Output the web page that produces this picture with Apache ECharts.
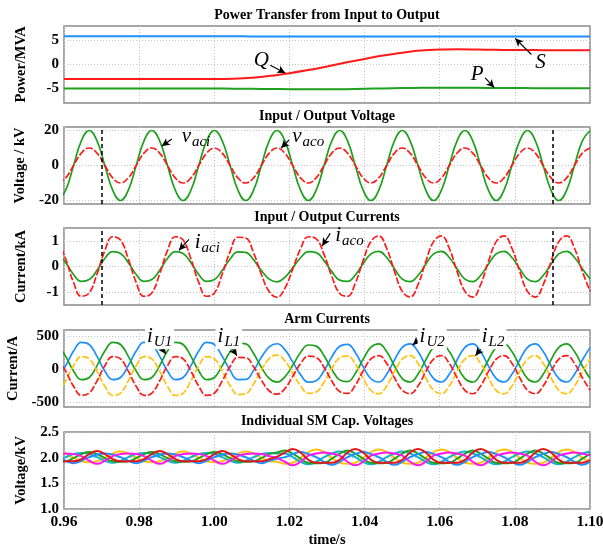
<!DOCTYPE html>
<html>
<head>
<meta charset="utf-8">
<script src="https://cdn.jsdelivr.net/npm/echarts@6/dist/echarts.min.js"></script>
<style>
  html, body { margin: 0; padding: 0; background: #fff; }
  #chart { width: 603px; height: 546px; }
</style>
</head>
<body>
<div id="chart"></div>
<script>
const SERIF = 'Liberation Serif'

// simulation sample times (s), one sample every 1/480 s
const sampleTime = [
  0.95837, 0.96046, 0.96254, 0.96462, 0.96671, 0.96879, 0.97087, 0.97296, 0.97504, 0.97712,
  0.97921, 0.98129, 0.98337, 0.98546, 0.98754, 0.98962, 0.99171, 0.99379, 0.99587, 0.99796,
  1.00004, 1.00212, 1.00421, 1.00629, 1.00837, 1.01046, 1.01254, 1.01462, 1.01671, 1.01879,
  1.02087, 1.02296, 1.02504, 1.02712, 1.02921, 1.03129, 1.03337, 1.03546, 1.03754, 1.03962,
  1.04171, 1.04379, 1.04587, 1.04796, 1.05004, 1.05212, 1.05421, 1.05629, 1.05837, 1.06046,
  1.06254, 1.06462, 1.06671, 1.06879, 1.07087, 1.07296, 1.07504, 1.07712, 1.07921, 1.08129,
  1.08337, 1.08546, 1.08754, 1.08962, 1.09171, 1.09379, 1.09587, 1.09796, 1.10004
]

// power transfer (MVA), every 5 ms
const powerTime = [0.96, 0.965, 0.97, 0.975, 0.98, 0.985, 0.99, 0.995, 1.0, 1.005, 1.01, 1.015, 1.02, 1.025,
  1.03, 1.035, 1.04, 1.045, 1.05, 1.055, 1.06, 1.065, 1.07, 1.075, 1.08, 1.085, 1.09, 1.095, 1.1]
const powerS = [5.85, 5.85, 5.85, 5.85, 5.85, 5.85, 5.85, 5.85, 5.85, 5.85, 5.84, 5.84, 5.83, 5.83,
  5.82, 5.82, 5.82, 5.81, 5.81, 5.8, 5.8, 5.8, 5.8, 5.8, 5.8, 5.8, 5.8, 5.8, 5.8]
const powerQ = [-3, -3, -3, -3, -3, -3, -3, -3, -3, -2.95, -2.75, -2.35, -1.8, -1.15,
  -0.4, 0.4, 1.15, 1.85, 2.45, 2.9, 3.1, 3.15, 3.1, 3.05, 3.0, 3.0, 2.95, 2.95, 2.95]
const powerP = [-5, -5, -5, -5, -5, -5, -5, -5, -5, -5.02, -5.05, -5.1, -5.13, -5.15,
  -5.15, -5.12, -5.05, -4.97, -4.9, -4.85, -4.83, -4.83, -4.85, -4.88, -4.9, -4.91, -4.92, -4.92, -4.92]

// input / output voltage (kV)
const vAci = [
  -20, -14.1, 0, 14.1, 20, 14.1, 0, -14.1,
  -20, -14.1, 0, 14.1, 20, 14.1, 0, -14.1,
  -20, -14.1, 0, 14.1, 20, 14.1, 0, -14.1,
  -20, -14.1, 0, 14.1, 20, 14.1, 0, -14.1,
  -20, -14.1, 0, 14.1, 20, 14.1, 0, -14.1,
  -20, -14.1, 0, 14.1, 20, 14.1, 0, -14.1,
  -20, -14.1, 0, 14.1, 20, 14.1, 0, -14.1,
  -20, -14.1, 0, 14.1, 20, 14.1, 0, -14.1,
  -20, -14.1, 0, 14.1, 20
]
const vAco = [
  -10, -7.07, 0, 7.07, 10, 7.07, 0, -7.07,
  -10, -7.07, 0, 7.07, 10, 7.07, 0, -7.07,
  -10, -7.07, 0, 7.07, 10, 7.07, 0, -7.07,
  -10, -7.07, 0, 7.07, 10, 7.07, 0, -7.07,
  -10, -7.07, 0, 7.07, 10, 7.07, 0, -7.07,
  -10, -7.07, 0, 7.07, 10, 7.07, 0, -7.07,
  -10, -7.07, 0, 7.07, 10, 7.07, 0, -7.07,
  -10, -7.07, 0, 7.07, 10, 7.07, 0, -7.07,
  -10, -7.07, 0, 7.07, 10
]

// input / output currents (kA)
const iAci = [
  0.51, 0.15, -0.31, -0.58, -0.51, -0.15, 0.31, 0.58,
  0.51, 0.15, -0.31, -0.58, -0.51, -0.15, 0.31, 0.58,
  0.51, 0.15, -0.31, -0.58, -0.51, -0.15,
  0.29, 0.57, 0.55, 0.26, -0.16, -0.49, -0.60, -0.42, -0.05,
  0.34, 0.58, 0.54, 0.23, -0.20, -0.53, -0.58, -0.33, 0.11, 0.49,
  0.59, 0.35, -0.09, -0.49, -0.59, -0.35, 0.09,
  0.49, 0.59, 0.35, -0.09, -0.49, -0.59, -0.35, 0.09,
  0.49, 0.59, 0.35, -0.09, -0.49, -0.59, -0.35, 0.09,
  0.49, 0.59, 0.35, -0.09, -0.49
]
const iAco = [
  1.03, 0.29, -0.62, -1.16, -1.03, -0.29, 0.62, 1.16,
  1.03, 0.29, -0.62, -1.16, -1.03, -0.29, 0.62, 1.16,
  1.03, 0.29, -0.62, -1.16, -1.03, -0.29,
  0.58, 1.14, 1.11, 0.53, -0.31, -0.98, -1.20, -0.85, -0.10,
  0.69, 1.16, 1.08, 0.47, -0.39, -1.05, -1.16, -0.65, 0.23, 0.98,
  1.19, 0.71, -0.19, -0.97, -1.19, -0.71, 0.19,
  0.97, 1.19, 0.71, -0.19, -0.97, -1.19, -0.71, 0.19,
  0.97, 1.19, 0.71, -0.19, -0.97, -1.19, -0.71, 0.19,
  0.97, 1.19, 0.71, -0.19, -0.97
]

// arm currents (A)
const iU1 = [
  378, 196, -27, -161, -128, 54, 277, 411,
  378, 196, -27, -161, -128, 54, 277, 411,
  378, 196, -27, -161, -128, 54,
  268, 399, 387, 239, 29, -142, -199, -119, 59,
  254, 370, 353, 205, -4, -164, -191, -66, 151, 337,
  387, 269, 49, -144, -197, -79, 141,
  334, 387, 269, 49, -144, -197, -79, 141,
  334, 387, 269, 49, -144, -197, -79, 141,
  334, 387, 269, 49, -144
]
const iU2 = [
  -128, 54, 277, 411, 378, 196, -27, -161,
  -128, 54, 277, 411, 378, 196, -27, -161,
  -128, 54, 277, 411, 378, 196,
  -18, -159, -157, -19, 181, 342, 389, 299, 111,
  -84, -200, -177, -25, 188, 352, 381, 256, 39, -147,
  -197, -79, 141, 334, 387, 269, 49,
  -144, -197, -79, 141, 334, 387, 269, 49,
  -144, -197, -79, 141, 334, 387, 269, 49,
  -144, -197, -79, 141, 334
]
const iL1 = [
  156, -31, -262, -401, -366, -179, 52, 191,
  156, -31, -262, -401, -366, -179, 52, 191,
  156, -31, -262, -401, -366, -179,
  41, 179, 176, 36, -168, -331, -384, -297, -111,
  84, 200, 180, 30, -181, -343, -371, -246, -29, 157,
  207, 89, -131, -324, -377, -259, -39,
  154, 207, 89, -131, -324, -377, -259, -39,
  154, 207, 89, -131, -324, -377, -259, -39,
  154, 207, 89, -131, -324
]
const iL2 = [
  -366, -179, 52, 191, 156, -31, -262, -401,
  -366, -179, 52, 191, 156, -31, -262, -401,
  -366, -179, 52, 191, 156, -31,
  -251, -389, -376, -226, -12, 161, 214, 127, -59,
  -254, -370, -350, -200, 11, 173, 201, 76, -141, -327,
  -377, -259, -39, 154, 207, 89, -131,
  -324, -377, -259, -39, 154, 207, 89, -131,
  -324, -377, -259, -39, 154, 207, 89, -131,
  -324, -377, -259, -39, 154
]

// individual SM capacitor voltages (kV)
const capGold = [
  2.12, 2.08, 2.00, 1.93, 1.91, 1.93, 2.00, 2.08,
  2.12, 2.08, 2.00, 1.93, 1.91, 1.93, 2.00, 2.08,
  2.12, 2.08, 2.00, 1.93, 1.91, 1.93, 2.00, 2.08,
  2.12, 2.08, 2.00, 1.93, 1.92,
  1.88, 1.90, 2.00, 2.11,
  2.16, 2.11, 2.00, 1.90, 1.88, 1.90, 2.00, 2.11,
  2.16, 2.11, 2.00, 1.90, 1.88, 1.90, 2.00, 2.11,
  2.16, 2.11, 2.00, 1.90, 1.88, 1.90, 2.00, 2.11,
  2.16, 2.11, 2.00, 1.90, 1.88, 1.90, 2.00, 2.11,
  2.16, 2.11, 2.00, 1.90
]
const capMagenta = [
  2.07,
  2.08, 2.07, 2.03, 1.94, 1.88, 1.94, 2.03, 2.07,
  2.08, 2.07, 2.03, 1.94, 1.88, 1.94, 2.03, 2.07,
  2.08, 2.07, 2.03, 1.94, 1.88, 1.94, 2.03, 2.07,
  2.08, 2.07, 2.03, 1.99,
  1.92, 1.85, 1.92, 2.04, 2.08,
  2.10, 2.08, 2.04, 1.92, 1.85, 1.92, 2.04, 2.08,
  2.10, 2.08, 2.04, 1.92, 1.85, 1.92, 2.04, 2.08,
  2.10, 2.08, 2.04, 1.92, 1.85, 1.92, 2.04, 2.08,
  2.10, 2.08, 2.04, 1.92, 1.85, 1.92, 2.04, 2.08,
  2.10, 2.08, 2.04
]
const capCyan = [
  1.94, 2.01, 2.07,
  2.09, 2.07, 2.01, 1.94, 1.90, 1.94, 2.01, 2.07,
  2.09, 2.07, 2.01, 1.94, 1.90, 1.94, 2.01, 2.07,
  2.09, 2.07, 2.01, 1.94, 1.90, 1.94, 2.01, 2.07,
  2.09, 2.08,
  2.08, 2.01, 1.92, 1.87, 1.92, 2.01, 2.08,
  2.12, 2.08, 2.01, 1.92, 1.87, 1.92, 2.01, 2.08,
  2.12, 2.08, 2.01, 1.92, 1.87, 1.92, 2.01, 2.08,
  2.12, 2.08, 2.01, 1.92, 1.87, 1.92, 2.01, 2.08,
  2.12, 2.08, 2.01, 1.92, 1.87, 1.92, 2.01, 2.08,
  2.12
]
const capGreen = [
  1.92, 1.93, 1.99, 2.07,
  2.11, 2.07, 1.99, 1.93, 1.92, 1.93, 1.99, 2.07,
  2.11, 2.07, 1.99, 1.93, 1.92, 1.93, 1.99, 2.07,
  2.11, 2.07, 1.99, 1.93, 1.92, 1.93, 1.99, 2.07,
  2.10,
  2.14, 2.08, 1.98, 1.90, 1.89, 1.90, 1.98, 2.08,
  2.14, 2.08, 1.98, 1.90, 1.89, 1.90, 1.98, 2.08,
  2.14, 2.08, 1.98, 1.90, 1.89, 1.90, 1.98, 2.08,
  2.14, 2.08, 1.98, 1.90, 1.89, 1.90, 1.98, 2.08,
  2.14, 2.08, 1.98, 1.90, 1.89, 1.90, 1.98, 2.08
]
const capRed = [
  1.93, 1.93, 1.93, 1.97, 2.07,
  2.13, 2.07, 1.97, 1.93, 1.93, 1.93, 1.97, 2.07,
  2.13, 2.07, 1.97, 1.93, 1.93, 1.93, 1.97, 2.07,
  2.13, 2.07, 1.97, 1.93, 1.93, 1.93, 1.97,
  2.02, 2.10,
  2.17, 2.10, 1.96, 1.90, 1.90, 1.90, 1.96, 2.10,
  2.17, 2.10, 1.96, 1.90, 1.90, 1.90, 1.96, 2.10,
  2.17, 2.10, 1.96, 1.90, 1.90, 1.90, 1.96, 2.10,
  2.17, 2.10, 1.96, 1.90, 1.90, 1.90, 1.96, 2.10,
  2.17, 2.10, 1.96, 1.90, 1.90, 1.90, 1.96
]
const capBlue = [
  2.01, 1.94, 1.89, 1.94, 2.01, 2.06,
  2.08, 2.06, 2.01, 1.94, 1.89, 1.94, 2.01, 2.06,
  2.08, 2.06, 2.01, 1.94, 1.89, 1.94, 2.01, 2.06,
  2.08, 2.06, 2.01, 1.94, 1.89, 1.94,
  1.98, 2.01, 2.07,
  2.11, 2.07, 2.01, 1.92, 1.86, 1.92, 2.01, 2.07,
  2.11, 2.07, 2.01, 1.92, 1.86, 1.92, 2.01, 2.07,
  2.11, 2.07, 2.01, 1.92, 1.86, 1.92, 2.01, 2.07,
  2.11, 2.07, 2.01, 1.92, 1.86, 1.92, 2.01, 2.07,
  2.11, 2.07, 2.01, 1.92, 1.86, 1.92
]

// dashed cursor lines (s)
const cursorTimes = [0.9709, 1.0877]

// y tick labels per panel
const powerTicks = [-5, 0, 5]
const voltageTicks = [-20, 0, 20]
const currentTicks = [-1, 0, 1]
const armTicks = [-500, 0, 500]

const panelTitles = ['Power Transfer from Input to Output', 'Input / Output Voltage',
  'Input / Output Currents', 'Arm Currents', 'Individual SM Cap. Voltages']
const panelUnits = ['Power/MVA', 'Voltage / kV', 'Current/kA', 'Current/A', 'Voltage/kV']

const BLUE = '#1e8fff'
const RED = '#ff1a1a'
const GREEN = '#1fa01f'
const GOLD = '#ffc20e'

const gridTops = [26, 127, 228, 330, 432]
const gridHeight = 77
const plotCenter = 327

const pairs = (xs, ys) => xs.map((x, i) => [x, ys[i]])

const mathRich = {
  m: { fontFamily: SERIF, fontStyle: 'italic', fontSize: 21, color: '#000', lineHeight: 22 },
  s: { fontFamily: SERIF, fontStyle: 'italic', fontSize: 15, color: '#000', padding: [11, 0, 0, 1] }
}

function tag (coord, text, white) {
  return {
    coord,
    symbol: 'circle',
    symbolSize: 0,
    label: {
      show: true,
      position: 'inside',
      formatter: text,
      rich: mathRich,
      backgroundColor: white ? '#fff' : 'transparent',
      padding: white ? [0, 2, 0, 2] : 0
    }
  }
}

function arrow (from, to) {
  return [{ coord: from }, { coord: to }]
}

function notes (tags, arrows) {
  return {
    markPoint: { silent: true, animation: false, data: tags },
    markLine: {
      silent: true,
      animation: false,
      symbol: ['none', 'arrow'],
      symbolSize: [6, 8],
      label: { show: false },
      lineStyle: { color: '#000', width: 1.2, type: 'solid' },
      itemStyle: { color: '#000' },
      data: arrows
    }
  }
}

function cursors () {
  return {
    markLine: {
      silent: true,
      animation: false,
      symbol: 'none',
      label: { show: false },
      lineStyle: { color: '#000', width: 1.5, type: [4, 3] },
      data: cursorTimes.map(t => ({ xAxis: t }))
    }
  }
}

function trace (grid, xs, ys, color, dashed, extra) {
  return Object.assign({
    type: 'line',
    xAxisIndex: grid,
    yAxisIndex: grid,
    data: pairs(xs, ys),
    showSymbol: false,
    smooth: 0.45,
    silent: true,
    animation: false,
    lineStyle: { color, width: 1.7, type: dashed ? [7, 2] : 'solid' },
    itemStyle: { color }
  }, extra || {})
}

const boldText = { fontFamily: SERIF, fontWeight: 'bold', color: '#000' }
const dotted = { show: true, lineStyle: { color: '#c4c4c4', type: [1, 2], width: 1 } }

function yAxis (i, min, max, ticks) {
  const axis = {
    type: 'value',
    gridIndex: i,
    min,
    max,
    name: panelUnits[i],
    nameLocation: 'middle',
    nameGap: 35,
    nameTextStyle: Object.assign({ fontSize: 14.5 }, boldText),
    axisLine: { show: false },
    axisTick: { show: false },
    splitLine: dotted,
    axisLabel: Object.assign({ fontSize: 15, margin: 5 }, boldText)
  }
  if (ticks) {
    axis.axisLabel.customValues = ticks
    axis.axisTick.customValues = ticks
  } else {
    axis.interval = 0.5
    axis.axisLabel.formatter = v => v.toFixed(1)
  }
  return axis
}

const wide = (color) => ({ lineStyle: { color, width: 2 } })

const option = {
  backgroundColor: '#fff',
  animation: false,
  title: panelTitles.map((text, i) => ({
    text,
    left: plotCenter,
    textAlign: 'center',
    top: gridTops[i] - 18,
    padding: 0,
    textStyle: Object.assign({ fontSize: 14 }, boldText)
  })),
  grid: gridTops.map(top => ({
    left: 64,
    right: 13,
    top,
    height: gridHeight,
    containLabel: false,
    outerBoundsMode: 'none',
    show: true,
    borderColor: '#8a8a8a',
    borderWidth: 1.5,
    backgroundColor: '#fff'
  })),
  xAxis: gridTops.map((_, i) => ({
    type: 'value',
    gridIndex: i,
    min: 0.96,
    max: 1.1,
    interval: 0.02,
    name: i === 4 ? 'time/s' : '',
    nameLocation: 'middle',
    nameGap: 24,
    nameTextStyle: Object.assign({ fontSize: 14.5 }, boldText),
    axisLine: { show: false },
    axisTick: { show: false },
    splitLine: dotted,
    axisLabel: Object.assign({ show: i === 4, fontSize: 15.5, margin: 5, formatter: v => v.toFixed(2) }, boldText)
  })),
  yAxis: [
    yAxis(0, -8, 8, powerTicks),
    yAxis(1, -22, 22, voltageTicks),
    yAxis(2, -1.5, 1.5, currentTicks),
    yAxis(3, -580, 600, armTicks),
    yAxis(4, 1.0, 2.5, null)
  ],
  series: [
    trace(0, powerTime, powerS, BLUE, false, Object.assign({ smooth: 0.3 }, wide(BLUE))),
    trace(0, powerTime, powerP, GREEN, false, Object.assign({ smooth: 0.3 }, wide(GREEN))),
    trace(0, powerTime, powerQ, RED, false, Object.assign({ smooth: 0.3 }, wide(RED), notes(
      [tag([1.0125, 0.9], '{m|Q}'), tag([1.0868, 0.47], '{m|S}'), tag([1.0700, -2.17], '{m|P}')],
      [arrow([1.0149, -0.14], [1.0189, -1.76]), arrow([1.0844, 2.08], [1.0801, 5.42]),
        arrow([1.0721, -2.77], [1.0745, -4.8])]
    ))),

    trace(1, sampleTime, vAci, GREEN, false, cursors()),
    trace(1, sampleTime, vAco, RED, true, notes(
      [tag([0.99512, 16.8], '{m|v}{s|aci}'), tag([1.02499, 16.8], '{m|v}{s|aco}')],
      [arrow([0.98872, 15.2], [0.98605, 11.1]), arrow([1.01992, 14.6], [1.01779, 10.0])]
    )),

    trace(2, sampleTime, iAci, GREEN, false, cursors()),
    trace(2, sampleTime, iAco, RED, true, notes(
      [tag([0.99812, 0.94], '{m|i}{s|aci}'), tag([1.03599, 1.21], '{m|i}{s|aco}')],
      [arrow([0.99325, 1.06], [0.99059, 0.63]), arrow([1.03085, 1.29], [1.02872, 0.8])]
    )),

    trace(3, sampleTime, iU2, BLUE, false),
    trace(3, sampleTime, iU1, GREEN, false),
    trace(3, sampleTime, iL2, GOLD, true),
    trace(3, sampleTime, iL1, RED, true, notes(
      [tag([0.98545, 505], '{m|i}{s|U1}', true), tag([1.0039, 505], '{m|i}{s|L1}', true),
        tag([1.0580, 505], '{m|i}{s|U2}', true), tag([1.0742, 505], '{m|i}{s|L2}', true)],
      [arrow([0.98557, 361], [0.98712, 232]), arrow([1.00424, 361], [1.00603, 208]),
        arrow([1.05488, 474], [1.05283, 371]), arrow([1.07131, 335], [1.06952, 208])]
    )),

    trace(4, sampleTime, capGold, GOLD, false, wide(GOLD)),
    trace(4, sampleTime, capCyan, '#17b3c8', false, wide('#17b3c8')),
    trace(4, sampleTime, capGreen, GREEN, false, wide(GREEN)),
    trace(4, sampleTime, capBlue, BLUE, false, wide(BLUE)),
    trace(4, sampleTime, capMagenta, '#ff18ee', false, wide('#ff18ee')),
    trace(4, sampleTime, capRed, '#e0161b', false, wide('#e0161b'))
  ]
}

const chart = echarts.init(document.getElementById('chart'), null, { renderer: 'canvas' })
chart.setOption(option)
</script>
</body>
</html>
